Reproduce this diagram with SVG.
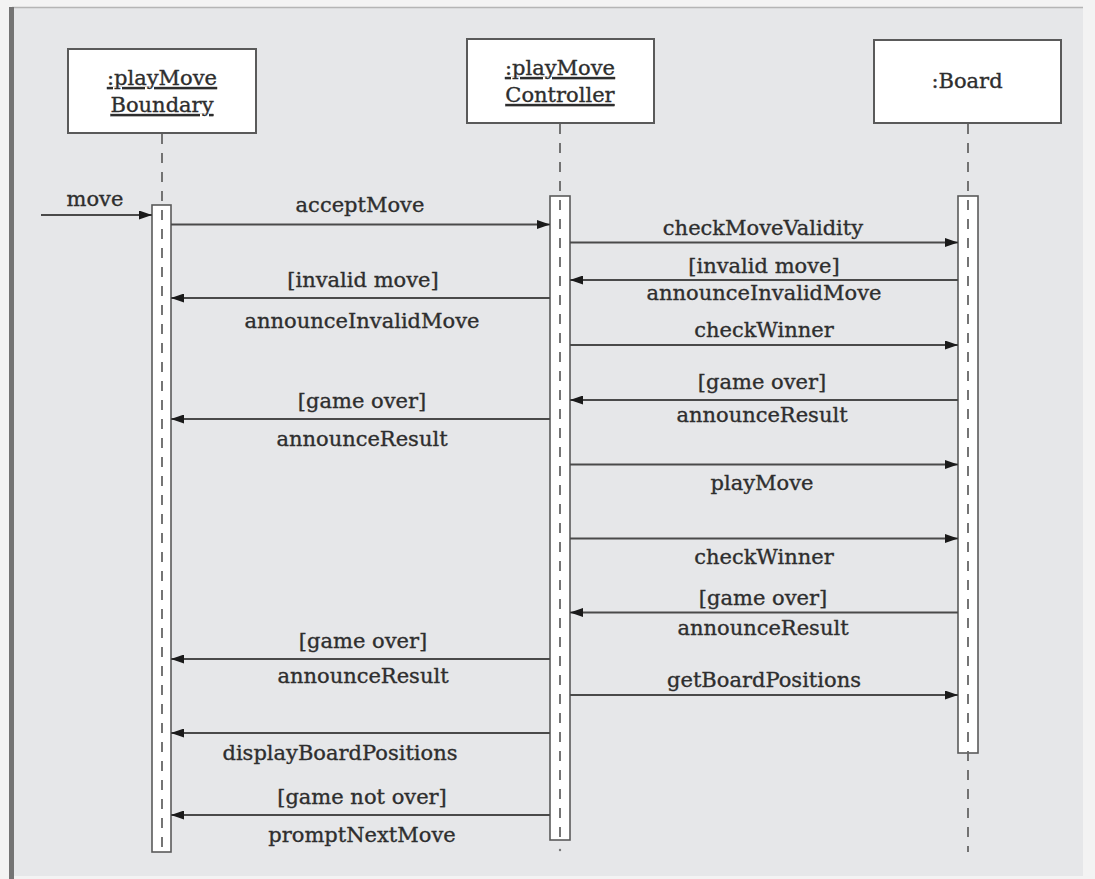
<svg xmlns="http://www.w3.org/2000/svg" width="1095" height="879" viewBox="0 0 1095 879">
<defs>
<style>
.frame{fill:#e6e7e9}
.box{fill:#ffffff;stroke:#5a5a5a;stroke-width:2}
.bar{fill:#ffffff;stroke:#5a5a5a;stroke-width:1.6}
.life{fill:none;stroke:#666666;stroke-width:1.8;stroke-dasharray:10 9}
.msg{fill:none;stroke:#4a4a4a;stroke-width:1.8;marker-end:url(#ah)}
.t{font-family:"DejaVu Serif","Liberation Serif",serif;font-size:21px;fill:#2e2e2e;stroke:#2e2e2e;stroke-width:0.35;text-anchor:middle}
.u{text-decoration:underline}
</style>
<marker id="ah" viewBox="0 0 13 9" refX="13" refY="4.5" markerWidth="13" markerHeight="9" markerUnits="userSpaceOnUse" orient="auto">
<path d="M0,0 L13,4.5 L0,9 Z" fill="#1a1a1a"/>
</marker>
</defs>
<rect x="0" y="0" width="1095" height="879" fill="#f3f3f3"/>
<rect class="frame" x="12" y="7" width="1071" height="869"/>
<line x1="12" y1="7.5" x2="1083" y2="7.5" stroke="#b5b5b5" stroke-width="1.5"/>
<rect x="9" y="7" width="5" height="872" fill="#747474"/>

<g id="node-boundary">
<rect class="box" x="68" y="49" width="188" height="84"/>
<text class="t u" x="162" y="85">:playMove</text>
<text class="t u" x="162" y="112">Boundary</text>
</g>
<g id="node-controller">
<rect class="box" x="467" y="39" width="187" height="84"/>
<text class="t u" x="560" y="75">:playMove</text>
<text class="t u" x="560" y="102">Controller</text>
</g>
<g id="node-board">
<rect class="box" x="874" y="40" width="187" height="83"/>
<text class="t" x="967" y="88">:Board</text>
</g>

<g id="lifelines">
<rect class="bar" x="152" y="205" width="19" height="647"/>
<rect class="bar" x="550" y="196" width="20" height="644"/>
<rect class="bar" x="958" y="196" width="20" height="557"/>
<line class="life" x1="162" y1="134" x2="162" y2="848"/>
<line class="life" x1="560" y1="124" x2="560" y2="838"/>
<circle cx="560" cy="850" r="1.2" fill="#777"/>
<line class="life" x1="968" y1="124" x2="968" y2="852"/>
</g>

<g id="connectors">
<line class="msg" x1="41" y1="215" x2="152" y2="215"/>
<line class="msg" x1="171" y1="224.5" x2="550" y2="224.5"/>
<line class="msg" x1="570" y1="242.5" x2="958" y2="242.5"/>
<line class="msg" x1="958" y1="280" x2="570" y2="280"/>
<line class="msg" x1="550" y1="298" x2="171" y2="298"/>
<line class="msg" x1="570" y1="345" x2="958" y2="345"/>
<line class="msg" x1="958" y1="400" x2="570" y2="400"/>
<line class="msg" x1="550" y1="419" x2="171" y2="419"/>
<line class="msg" x1="570" y1="464.5" x2="958" y2="464.5"/>
<line class="msg" x1="570" y1="538.5" x2="958" y2="538.5"/>
<line class="msg" x1="958" y1="612.5" x2="570" y2="612.5"/>
<line class="msg" x1="550" y1="659" x2="171" y2="659"/>
<line class="msg" x1="570" y1="695" x2="958" y2="695"/>
<line class="msg" x1="550" y1="733" x2="171" y2="733"/>
<line class="msg" x1="550" y1="815" x2="171" y2="815"/>
</g>

<g id="labels">
<text class="t" x="95" y="206">move</text>
<text class="t" x="360" y="212">acceptMove</text>
<text class="t" x="763" y="235">checkMoveValidity</text>
<text class="t" x="764" y="273">[invalid move]</text>
<text class="t" x="764" y="300">announceInvalidMove</text>
<text class="t" x="363" y="287">[invalid move]</text>
<text class="t" x="362" y="328">announceInvalidMove</text>
<text class="t" x="764" y="337">checkWinner</text>
<text class="t" x="762" y="389">[game over]</text>
<text class="t" x="762" y="422">announceResult</text>
<text class="t" x="362" y="408">[game over]</text>
<text class="t" x="362" y="446">announceResult</text>
<text class="t" x="762" y="490">playMove</text>
<text class="t" x="764" y="564">checkWinner</text>
<text class="t" x="763" y="605">[game over]</text>
<text class="t" x="763" y="635">announceResult</text>
<text class="t" x="363" y="648">[game over]</text>
<text class="t" x="363" y="683">announceResult</text>
<text class="t" x="764" y="687">getBoardPositions</text>
<text class="t" x="340" y="760">displayBoardPositions</text>
<text class="t" x="362" y="804">[game not over]</text>
<text class="t" x="362" y="842">promptNextMove</text>
</g>
</svg>
